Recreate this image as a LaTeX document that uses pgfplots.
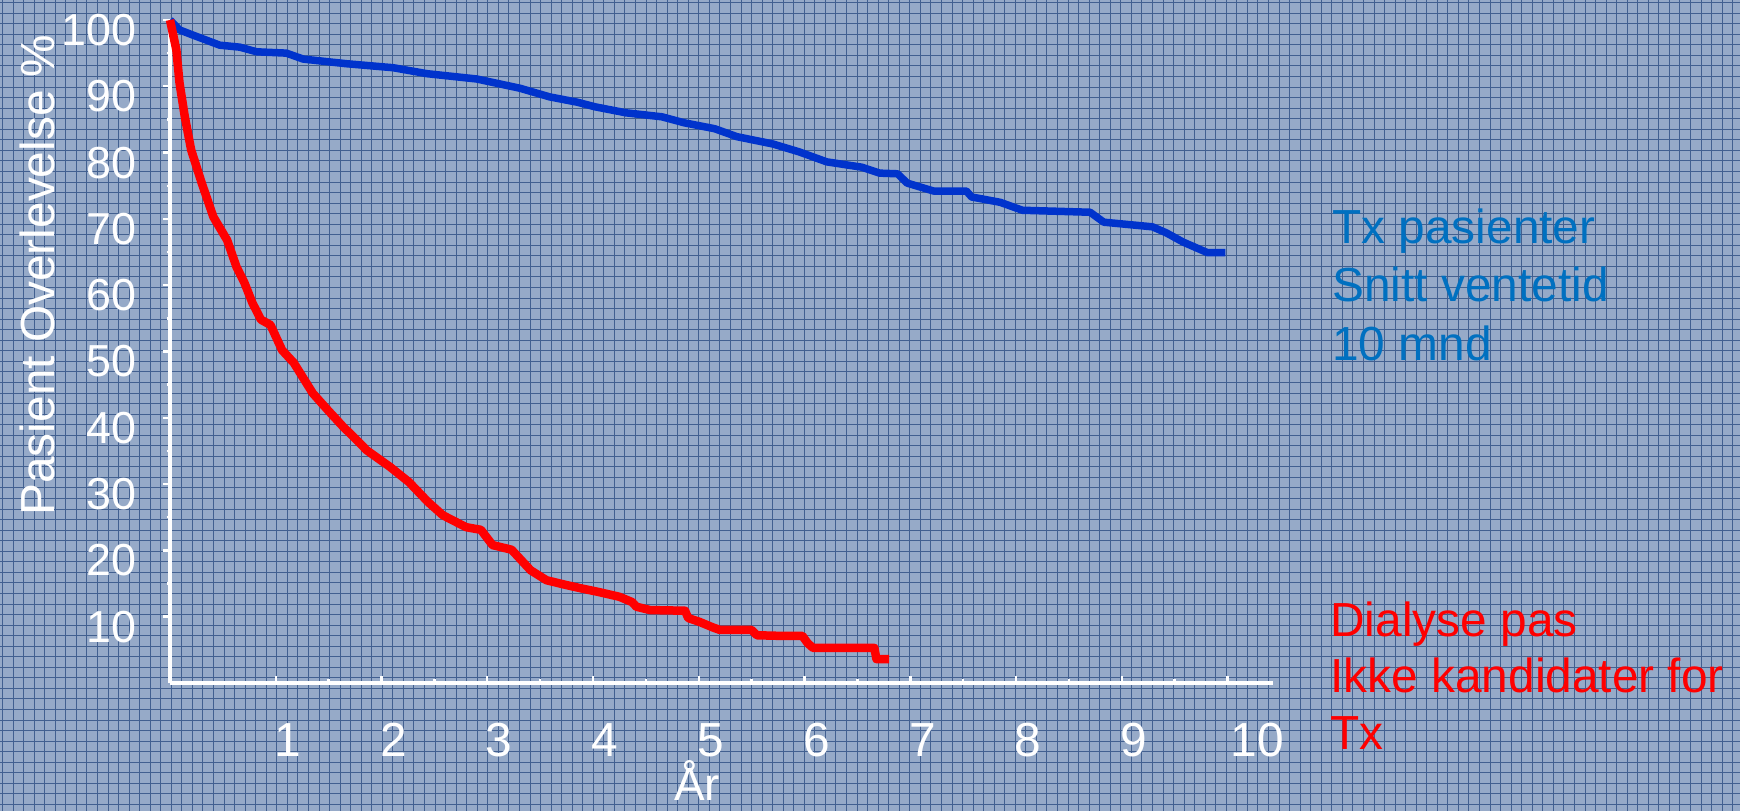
\documentclass[border=0pt]{standalone}
\usepackage{fontspec}
\setmainfont{Liberation Sans}
\usepackage{pgfplots}
\pgfplotsset{compat=1.18}
\definecolor{bgcell}{RGB}{150,170,200}
\definecolor{bggrid}{RGB}{66,96,144}
\definecolor{txline}{RGB}{0,51,204}
\definecolor{txtext}{RGB}{0,112,192}

\begin{document}
\begin{tikzpicture}[x=0.5bp,y=0.5bp]
% graph-paper background, 1 unit = 1 px of the reference
\useasboundingbox (0,0) rectangle (1740,811);
\fill[bgcell] (0,0) rectangle (1740,811);
\foreach \i in {0,...,165}
  \draw[bggrid, line width=0.5bp] ({2.5+\i*10.55},0) -- ({2.5+\i*10.55},811);
\foreach \j in {0,...,76}
  \draw[bggrid, line width=0.5bp] (0,{808.3-\j*10.55}) -- (1740,{808.3-\j*10.55});

\begin{axis}[
    at={(85bp,64bp)}, anchor=south west,
    width=551.5bp, height=331.5bp, scale only axis,
    xmin=0, xmax=10.43, ymin=0, ymax=100,
    axis x line=bottom, axis y line=left,
    axis line style={-, white, line width=1.75bp},
    clip=false,
    xtick={1,...,10}, minor x tick num=1,
    ytick={10,20,...,100}, minor y tick num=1,
    xticklabels={1,2,3,4,5,6,7,8,9,\hspace*{18bp}10},
    xtick align=inside, ytick align=outside,
    major tick length=3.5bp, minor tick length=1.75bp,
    tick style={white, line width=1.2bp},
    minor tick style={white, line width=1.2bp},
    xticklabel style={white, font=\fontsize{24}{29}\selectfont,
      anchor=center, inner sep=0pt, yshift=-28.5bp, xshift=6bp},
    yticklabel style={white, font=\fontsize{22.5}{27}\selectfont,
      anchor=east, inner sep=0pt, xshift=-13bp, yshift=-5bp},
    /pgf/number format/assume math mode=true,
]
% Tx patients
\addplot[txline, line width=3.75bp, line join=round] coordinates {
  (0,100) (0.09,98.5) (0.22,97.7) (0.47,96.2) (0.66,95.9) (0.82,95.2)
  (1.1,95.0) (1.26,94.1) (1.67,93.4) (2.11,92.8) (2.43,91.9) (2.9,91.1)
  (3.31,89.7) (3.59,88.4) (3.85,87.6) (4.02,86.9) (4.31,86.0) (4.65,85.4)
  (4.86,84.5) (5.15,83.6) (5.36,82.4) (5.70,81.3) (5.95,80.1) (6.21,78.6)
  (6.54,77.8) (6.71,76.9) (6.88,76.8) (6.97,75.4) (7.22,74.2) (7.53,74.2)
  (7.58,73.3) (7.85,72.5) (8.06,71.3) (8.70,71.0) (8.83,69.5) (9.29,68.8)
  (9.42,67.9) (9.58,66.5) (9.71,65.6) (9.81,64.9) (9.98,64.9)
};
% dialysis patients, not candidates
\addplot[red, line width=4.25bp, line join=round] coordinates {
  (0,100) (0.06,95.5) (0.09,90.5) (0.14,85.4) (0.2,80.4) (0.3,75.4)
  (0.41,70.3) (0.54,66.8) (0.63,62.7) (0.7,60.5) (0.78,57.3) (0.86,54.8)
  (0.95,54.0) (1.06,50.2) (1.17,48.3) (1.35,43.7) (1.49,41.2) (1.64,38.6)
  (1.75,36.9) (1.86,35.1) (2.08,32.6) (2.26,30.3) (2.44,27.3) (2.58,25.3)
  (2.80,23.5) (2.94,23.1) (3.05,20.8) (3.23,20.1) (3.41,17.0) (3.56,15.5)
  (3.74,14.8) (3.88,14.3) (4.06,13.7) (4.25,13.0) (4.37,12.2) (4.41,11.5)
  (4.54,11.0) (4.87,10.9) (4.90,9.8) (5.01,9.2) (5.13,8.4) (5.20,8.0)
  (5.50,8.0) (5.55,7.2) (5.79,7.1) (5.98,7.1) (6.03,6.0) (6.08,5.3)
  (6.66,5.3) (6.68,3.6) (6.80,3.6)
};
\end{axis}

% labels
\node[white, rotate=90, font=\fontsize{24}{29}\selectfont] at (37,536) {Pasient Overlevelse \%};
\node[white, anchor=base, inner sep=0pt, font=\fontsize{23}{28}\selectfont] at (697,10) {År};

\begin{scope}[every node/.style={anchor=base west, inner sep=0pt, font=\fontsize{24}{29}\selectfont}]
\node[txtext] at (1332,567) {Tx pasienter};
\node[txtext] at (1332,509) {Snitt ventetid};
\node[txtext] at (1332,450) {10 mnd};
\node[red] at (1330,174) {Dialyse pas};
\node[red] at (1330,118) {Ikke kandidater for};
\node[red] at (1330,61) {Tx};
\end{scope}
\end{tikzpicture}
\end{document}
